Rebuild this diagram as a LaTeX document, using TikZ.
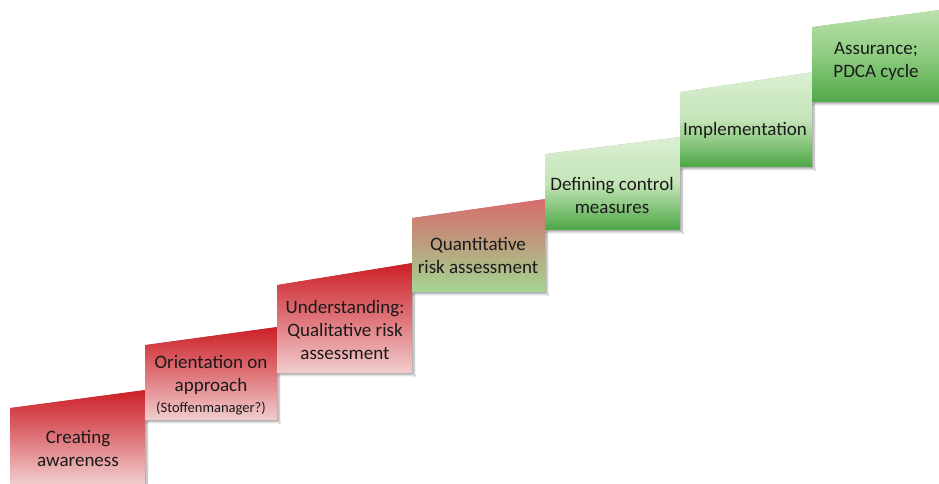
\documentclass[tikz,border=0pt]{standalone}
\usepackage{fontspec}
\setmainfont{Carlito}
\usetikzlibrary{shadows.blur}
\definecolor{redtop}{HTML}{CC1F26}
\definecolor{redmid}{HTML}{DE7479}
\definecolor{redbot}{HTML}{F2CDCD}
\definecolor{mixtop}{HTML}{D76C6C}
\definecolor{mixmid}{HTML}{BBA07E}
\definecolor{mixbot}{HTML}{A5D693}
\definecolor{grntop}{HTML}{DAEFD3}
\definecolor{grnmid}{HTML}{C4E5B8}
\definecolor{grnbot}{HTML}{4CA645}
\definecolor{dgrtop}{HTML}{BCE2AE}
\definecolor{dgrmid}{HTML}{8DCB7E}
\definecolor{dgrbot}{HTML}{4FA848}
\definecolor{txt}{HTML}{1A1A1A}
\newcommand{\notefont}{\fontsize{14.5}{17}\selectfont}
\begin{document}
\begin{tikzpicture}[x=1pt,y=1pt]
\tikzset{
  stepshape/.style={blur shadow={shadow xshift=2pt,shadow yshift=-2pt,shadow blur steps=6,shadow opacity=35}},
  redstep/.style={stepshape,top color=redtop,bottom color=redbot,middle color=redmid},
  mixstep/.style={stepshape,top color=mixtop,bottom color=mixbot,middle color=mixmid},
  grnstep/.style={stepshape,top color=grntop,bottom color=grnbot,middle color=grnmid},
  dgrstep/.style={stepshape,top color=dgrtop,bottom color=dgrbot,middle color=dgrmid},
  steplabel/.style={align=center,text=txt,font=\fontsize{19}{23}\selectfont}
}
\useasboundingbox (0,0) rectangle (939,484);
\fill[white] (0,0) rectangle (939,484);

% the seven steps of the staircase, lowest first
\path[redstep] (10,0) -- (10,76) -- (145,94) -- (145,0) -- cycle;
\path[redstep] (145,64) -- (145,139) -- (277,157) -- (277,64) -- cycle;
\path[redstep] (277,111) -- (277,199) -- (412,221) -- (412,111) -- cycle;
\path[mixstep] (412,192) -- (412,266) -- (545,285) -- (545,192) -- cycle;
\path[grnstep] (545,254) -- (545,330) -- (680,347) -- (680,254) -- cycle;
\path[grnstep] (680,317) -- (680,392) -- (812,412) -- (812,317) -- cycle;
\path[dgrstep] (812,382) -- (812,457) -- (939,474) -- (939,382) -- cycle;

% step labels
\node[steplabel] (s1) at (78,35) {Creating\\awareness};
\node[steplabel] (s2) at (211,99) {Orientation on\\approach\\[-2pt]{\notefont(Stoffenmanager?)}};
\node[steplabel] (s3) at (345,154) {Understanding:\\Qualitative risk\\assessment};
\node[steplabel] (s4) at (478,228) {Quantitative\\risk assessment};
\node[steplabel] (s5) at (612,289) {Defining control\\measures};
\node[steplabel] (s6) at (745,354) {Implementation};
\node[steplabel] (s7) at (876,423) {Assurance;\\PDCA cycle};
\end{tikzpicture}
\end{document}
